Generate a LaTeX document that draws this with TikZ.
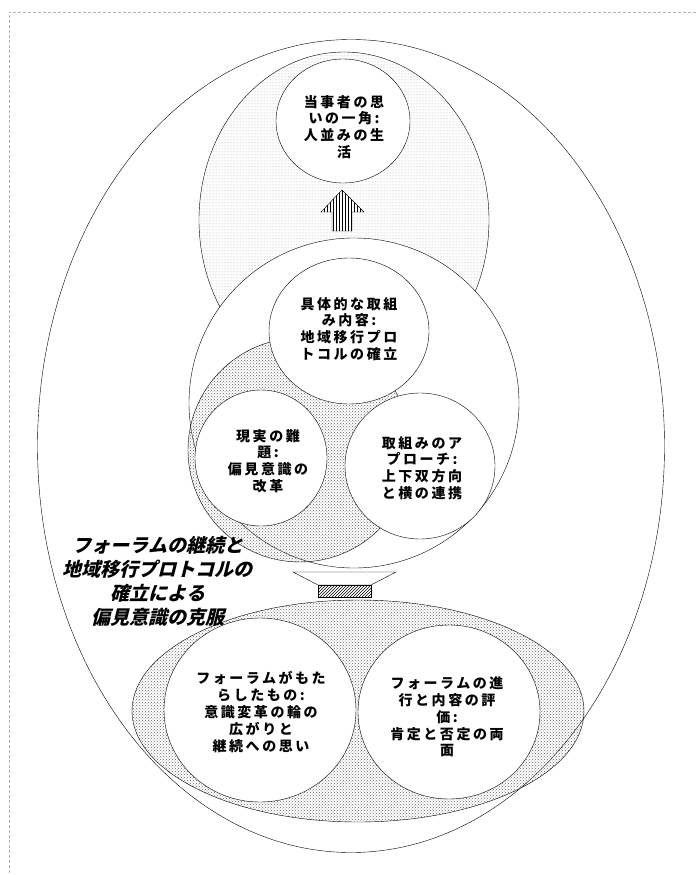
\documentclass[tikz,border=0pt]{standalone}
\usepackage{fontspec}
\usetikzlibrary{shapes.geometric,patterns}
\newfontfamily\jpfont[LetterSpace=18]{Noto Sans CJK JP}
\newfontfamily\jpslant[FakeSlant=0.25]{Noto Sans CJK JP}

\begin{document}
\begin{tikzpicture}[x=1pt,y=-1pt,
    oval/.style={ellipse,draw,inner sep=0pt},
    bubble/.style={oval,fill=white},
    dotzone/.style={oval,pattern=crosshatch dots,pattern color=black!60},
    txt/.style={align=center,inner sep=0pt,font=\jpfont\bfseries\fontsize{14}{16.8}\selectfont},
    bigtxt/.style={align=center,inner sep=0pt,font=\jpslant\bfseries\fontsize{19}{24}\selectfont}]
    
    \useasboundingbox (0,0) rectangle (696,875);
    \draw[gray!60,densely dashed,very thin] (696,12) -- (9,12) -- (9,875);
    
    \node (outer) [oval,minimum width=627pt,minimum height=813pt] at (351,446) {};
    \node (egg) [oval,pattern=dots,pattern color=gray!70,minimum width=290pt,minimum height=336pt] at (344,220) {};
    \node (wish) [bubble,minimum width=134pt,minimum height=124pt] at (343,121) {};
    \draw[preaction={fill=white},pattern=vertical lines] (342,190) -- (364,212) -- (352,212)
    -- (352,231) -- (332,231) -- (332,212) -- (321,212) -- cycle;
    
    \node (mid) [bubble,minimum width=330pt,minimum height=330pt] at (354,403) {};
    \node (issue) [dotzone,minimum width=224pt,minimum height=224pt] at (300,450) {};
    \node (content) [bubble,minimum width=160pt,minimum height=146pt] at (349,331) {};
    \node (bias) [bubble,minimum width=132pt,minimum height=136pt] at (261,458) {};
    \node (approach) [bubble,minimum width=150pt,minimum height=146pt] at (420,466) {};
    
    % funnel arrow down
    \draw[fill=white] (293,572) -- (396,572) -- (371,585) -- (318,585) -- cycle;
    \draw[preaction={fill=white},pattern=north east lines] (318,585) rectangle (371,597);
    
    \node (forum) [dotzone,minimum width=452pt,minimum height=222pt] at (358,711) {};
    \node (result) [bubble,minimum width=192pt,minimum height=184pt] at (260,710) {};
    \node (review) [bubble,minimum width=182pt,minimum height=174pt] at (449,712) {};
    
    \node (wishtxt) [txt] at (344,127) {当事者の思\\いの一角:\\人並みの生\\活};
    \node (contenttxt) [txt] at (349,329) {具体的な取組\\み内容:\\地域移行プロ\\トコルの確立};
    \node (biastxt) [txt] at (268,461) {現実の難\\題:\\偏見意識の\\改革};
    \node (approachtxt) [txt] at (422,468) {取組みのア\\プローチ:\\上下双方向\\と横の連携};
    \node (resulttxt) [txt] at (261,712) {フォーラムがもた\\らしたもの:\\意識変革の輪の\\広がりと\\継続への思い};
    \node (reviewtxt) [txt] at (447,717) {フォーラムの進\\行と内容の評\\価:\\肯定と否定の両\\面};
    \node (goal) [bigtxt] at (158,581) {フォーラムの継続と\\地域移行プロトコルの\\確立による\\偏見意識の克服};
    
\end{tikzpicture}
\end{document}
